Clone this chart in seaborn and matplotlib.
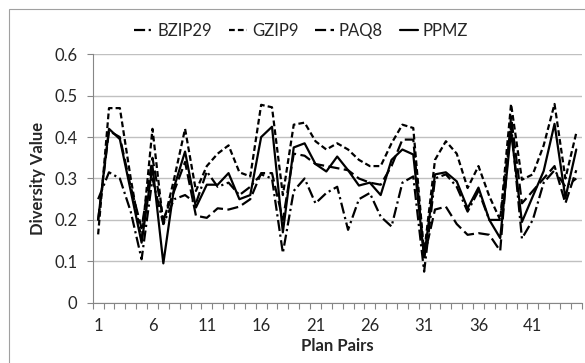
import numpy as np
import pandas as pd
import matplotlib
matplotlib.use("Agg")
import matplotlib.pyplot as plt
from matplotlib.patches import Rectangle
import seaborn as sns

# plan pair index
pairs = list(range(1, 46))

ppmz = [0.20, 0.42, 0.395, 0.27, 0.145, 0.33, 0.095, 0.28, 0.365, 0.23,
        0.285, 0.285, 0.313, 0.25, 0.26, 0.40, 0.425, 0.17, 0.375, 0.385,
        0.335, 0.317, 0.353, 0.32, 0.283, 0.29, 0.26, 0.345, 0.37, 0.358,
        0.11, 0.31, 0.315, 0.293, 0.228, 0.278, 0.20, 0.156, 0.414, 0.195,
        0.257, 0.318, 0.432, 0.253, 0.37]

gzip9 = [0.165, 0.47, 0.47, 0.30, 0.15, 0.42, 0.19, 0.30, 0.42, 0.27,
         0.33, 0.36, 0.38, 0.315, 0.305, 0.478, 0.472, 0.26, 0.43, 0.435,
         0.39, 0.37, 0.385, 0.37, 0.345, 0.33, 0.33, 0.385, 0.43, 0.422,
         0.12, 0.345, 0.39, 0.36, 0.277, 0.33, 0.257, 0.20, 0.48, 0.297,
         0.31, 0.38, 0.48, 0.30, 0.41]

paq8 = [0.20, 0.415, 0.40, 0.28, 0.18, 0.35, 0.20, 0.27, 0.34, 0.21,
        0.205, 0.228, 0.225, 0.232, 0.25, 0.313, 0.313, 0.20, 0.36, 0.355,
        0.335, 0.33, 0.325, 0.32, 0.30, 0.29, 0.285, 0.33, 0.394, 0.394,
        0.11, 0.225, 0.232, 0.19, 0.164, 0.168, 0.164, 0.125, 0.45, 0.24,
        0.27, 0.30, 0.33, 0.24, 0.32]

bzip29 = [0.25, 0.315, 0.30, 0.22, 0.105, 0.30, 0.19, 0.25, 0.26, 0.24,
          0.317, 0.28, 0.29, 0.26, 0.28, 0.31, 0.30, 0.12, 0.27, 0.30,
          0.24, 0.265, 0.28, 0.176, 0.25, 0.265, 0.208, 0.184, 0.29, 0.305,
          0.075, 0.30, 0.31, 0.28, 0.22, 0.27, 0.20, 0.20, 0.43, 0.155,
          0.20, 0.29, 0.32, 0.28, 0.30]

names = ["BZIP29", "GZIP9", "PAQ8", "PPMZ"]

df = pd.DataFrame({
    "pair": pairs * 4,
    "value": bzip29 + gzip9 + paq8 + ppmz,
    "series": sum([[n] * len(pairs) for n in names], []),
})

sns.set_style("white")
plt.rcParams["font.family"] = ["Lato", "DejaVu Sans"]

fig = plt.figure(figsize=(5.85, 3.63), dpi=100)
ax = fig.add_axes([92.7 / 585, 1 - 302.7 / 363, (581.7 - 92.7) / 585, (302.7 - 54.3) / 363])

dashes = {"BZIP29": (5, 1.6, 1, 1.6), "GZIP9": (2.6, 1.4), "PAQ8": (5, 2), "PPMZ": ""}
palette = {n: "black" for n in names}

sns.lineplot(data=df, x="pair", y="value", hue="series", style="series",
             hue_order=names, style_order=names, palette=palette,
             dashes=dashes, linewidth=1.6, ax=ax)

ax.set_xlim(0.5, 45.5)
ax.set_ylim(0, 0.6)
ax.set_yticks(np.arange(0, 0.61, 0.1))
ax.set_yticklabels(["0", "0.1", "0.2", "0.3", "0.4", "0.5", "0.6"])
ax.set_xticks(range(1, 46, 5))
ax.set_xticklabels([str(v) for v in range(1, 46, 5)])
ax.set_xticks(np.arange(0.5, 46, 1), minor=True)
ax.tick_params(axis="x", which="major", length=0, pad=11, labelsize=12)
ax.tick_params(axis="x", which="minor", length=4, width=0.8, color="#868686", direction="out", bottom=True)
ax.tick_params(axis="y", length=4, width=0.8, color="#868686", direction="out", left=True, labelsize=12, pad=7)

ax.grid(axis="y", color="#c0c0c0", linewidth=1)
ax.grid(axis="x", visible=False)
for side in ["top", "right"]:
    ax.spines[side].set_visible(False)
for side in ["left", "bottom"]:
    ax.spines[side].set_color("#868686")
    ax.spines[side].set_linewidth(0.8)

ax.set_xlabel("Plan Pairs", fontsize=12, fontweight="bold", labelpad=3)
ax.set_ylabel("Diversity Value", fontsize=12, fontweight="bold", labelpad=6)

handles, labels = ax.get_legend_handles_labels()
ax.legend(handles, labels, ncol=4, loc="center", bbox_to_anchor=(0.515, (363 - 31) / 363),
          bbox_transform=fig.transFigure, frameon=False, fontsize=12,
          handlelength=1.1, handletextpad=0.3, columnspacing=1.0)

fig.patches.append(Rectangle((9 / 585, -0.02), 1.1, 1 - 9 / 363 + 0.02, transform=fig.transFigure,
                             fill=False, edgecolor="#a0a0a0", linewidth=0.8))

fig.savefig("out.png", dpi=100)
